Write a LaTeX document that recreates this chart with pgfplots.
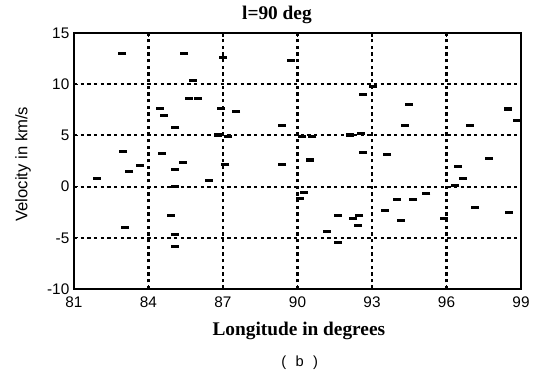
\documentclass[border=0pt]{standalone}
\usepackage{fontspec}
\setmainfont{Liberation Serif}
\setsansfont{Liberation Sans}
\usepackage{pgfplots}
\pgfplotsset{compat=1.18}
\begin{document}
\begin{tikzpicture}
\begin{axis}[
  scale only axis,
  width=335.25pt, height=192pt,
  xmin=81, xmax=99, ymin=-10, ymax=15,
  xtick={81,84,...,99}, ytick={-10,-5,...,15},
  /pgf/number format/assume math mode=true,
  ticklabel style={font=\sffamily\fontsize{11.5}{12}\selectfont},
  xticklabel style={yshift=-2.5pt},
  tick align=inside, major tick length=3pt,
  tick style={black, line width=0.8pt},
  xtick pos=both, ytick pos=left,
  axis line style={line width=1.4pt},
  grid=major,
  major grid style={black, line width=1.6pt, dash pattern=on 2.6pt off 2.4pt},
  clip=false,
]
\addplot[only marks, mark=-, mark size=3pt, mark options={line width=2.3pt, black}] coordinates {
(82.94,13.0) (85.43,13.0) (85.80,10.4) (85.62,8.56) (86.00,8.56)
(87.00,12.6) (89.72,12.28) (84.46,7.64) (84.62,6.93) (85.08,5.8)
(86.92,7.62) (87.53,7.3) (86.8,5.04) (87.2,4.88) (89.36,5.95)
(82.98,3.41) (84.53,3.25) (85.37,2.37) (83.66,2.05) (83.22,1.46)
(85.06,1.66) (87.1,2.18) (86.42,0.57) (81.91,0.75) (85.06,0.0)
(89.38,2.2) (90.5,2.6) (90.2,4.9) (90.6,4.9) (93.05,9.76)
(92.64,8.95) (94.48,8.03) (98.48,7.58) (98.82,6.5) (94.32,5.95)
(96.94,5.95) (92.1,5.04) (92.54,5.2) (92.64,3.34) (93.61,3.13)
(97.71,2.76) (96.47,1.95) (96.67,0.75) (96.36,0.1) (90.26,-0.6)
(90.1,-1.18) (84.9,-2.86) (83.05,-4.0) (85.06,-4.7) (85.06,-5.85)
(91.64,-2.86) (92.24,-3.09) (92.48,-2.86) (92.44,-3.84) (91.17,-4.39)
(91.64,-5.43) (93.52,-2.37) (93.99,-1.22) (94.15,-3.29) (94.66,-1.22)
(95.19,-0.65) (95.9,-3.15) (97.14,-2.02) (98.5,-2.54)
};
\node[font=\bfseries\fontsize{14.5}{16}\selectfont] at (axis description cs:0.454,1.072) {l=90 deg};
\node[font=\bfseries\fontsize{14.5}{16}\selectfont] at (axis description cs:0.503,-0.165) {Longitude in degrees};
\node[font=\sffamily\fontsize{12.5}{14}\selectfont, rotate=90] at (axis description cs:-0.114,0.488) {Velocity in km/s};
\node[font=\sffamily\fontsize{11}{13}\selectfont] at (axis description cs:0.505,-0.289) {(\hspace{7pt}b\hspace{7pt})};
\end{axis}
\path (-55.5pt,-64.5pt) rectangle (348pt,216.75pt);
\end{tikzpicture}
\end{document}
